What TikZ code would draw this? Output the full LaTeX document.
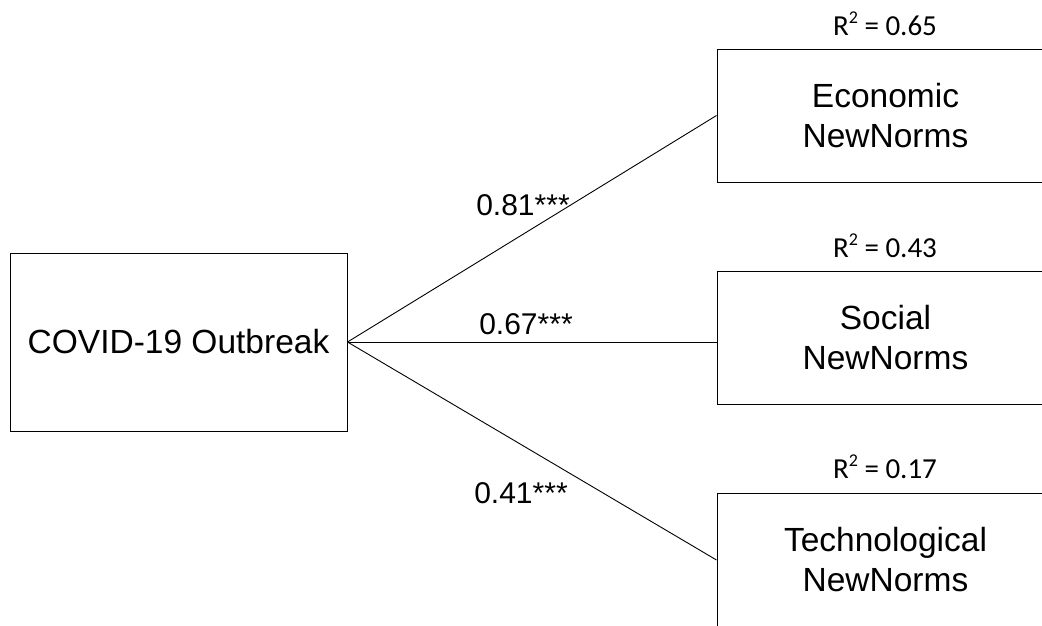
\documentclass[tikz,border=0pt]{standalone}
\usepackage{fontspec}
\setmainfont{Liberation Sans}
\newfontfamily\rsqfont{Carlito}
\newcommand{\rsquared}{R\raisebox{0.42em}{\fontsize{18}{18}\selectfont 2}}
\begin{document}
\begin{tikzpicture}[x=1pt,y=-1pt,
  construct/.style={draw=black, line width=1pt, minimum width=337pt, inner sep=0pt,
    align=center, font=\fontsize{33.5}{40}\selectfont},
  pathlabel/.style={inner sep=0pt, font=\fontsize{30}{36}\selectfont},
  rsq/.style={inner sep=0pt, font=\rsqfont\fontsize{29}{34}\selectfont},
  path/.style={draw=black, line width=0.9pt}]
  \clip (0,0) rectangle (1042,625);

  % latent constructs
  \node[construct, minimum height=178pt] (cov) at (178.5,342) {COVID-19 Outbreak};
  \node[construct, minimum height=133pt] (eco) at (885.5,115.5) {Economic\\NewNorms};
  \node[construct, minimum height=133pt] (soc) at (885.5,337.5) {Social\\NewNorms};
  \node[construct, minimum height=133pt] (tec) at (885.5,560) {Technological\\NewNorms};

  % explained variance
  \node[rsq] (r1) at (885,24) {\rsquared{} = 0.65};
  \node[rsq] (r2) at (885,246) {\rsquared{} = 0.43};
  \node[rsq] (r3) at (885,467) {\rsquared{} = 0.17};

  % structural paths
  \draw[path] (cov.east) -- (eco.west);
  \draw[path] (cov.east) -- (soc.west |- cov.east);
  \draw[path] (cov.east) -- (tec.west);

  % path coefficients
  \node[pathlabel] (p1) at (523,205) {0.81***};
  \node[pathlabel] (p2) at (526,324) {0.67***};
  \node[pathlabel] (p3) at (521,493) {0.41***};
\end{tikzpicture}
\end{document}
